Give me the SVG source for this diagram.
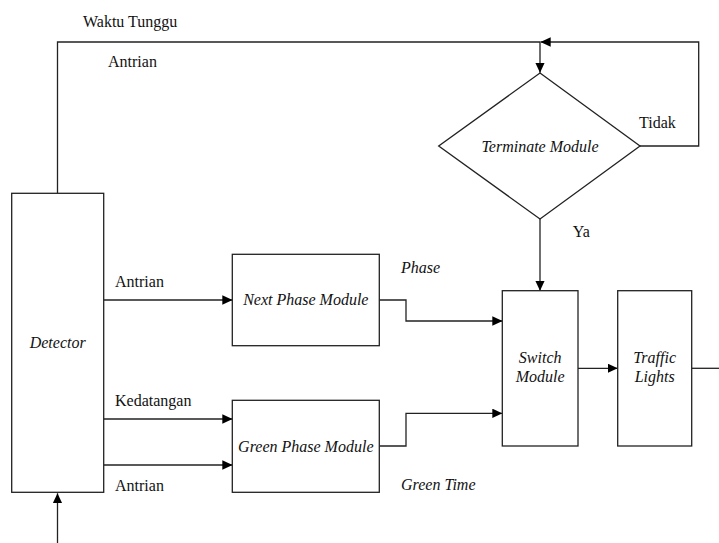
<svg xmlns="http://www.w3.org/2000/svg" width="719" height="543" viewBox="0 0 719 543" font-family="'Liberation Serif', Tinos, 'Times New Roman', 'DejaVu Serif', serif">
<defs>
<marker id="arr" markerUnits="userSpaceOnUse" markerWidth="10" markerHeight="10" refX="10" refY="4.7" orient="auto">
<path d="M0,0 L10,4.7 L0,9.4 z" fill="#000"/>
</marker>
<style>
.box{fill:#fff;stroke:#222;stroke-width:1.3}
.ln{fill:none;stroke:#222;stroke-width:1.3}
.t{font-family:'Liberation Serif', Tinos, 'Times New Roman', 'DejaVu Serif', serif;font-size:16px;fill:#111}
.i{font-style:italic}
.m{text-anchor:middle}
</style>
</defs>
<rect width="719" height="543" fill="#fff"/>
<g id="connectors">
<path class="ln" d="M57.5,193 V42 H540 V72.7" marker-end="url(#arr)"/>
<path class="ln" d="M640,146 H698.7 V42 H540.7" marker-end="url(#arr)"/>
<path class="ln" d="M540,219 V290.7" marker-end="url(#arr)"/>
<path class="ln" d="M104,300 H232.3" marker-end="url(#arr)"/>
<path class="ln" d="M104,419 H232.3" marker-end="url(#arr)"/>
<path class="ln" d="M104,465 H232.3" marker-end="url(#arr)"/>
<path class="ln" d="M379.3,300 H406 V321 H502.3" marker-end="url(#arr)"/>
<path class="ln" d="M379.3,446 H406 V413.3 H502.3" marker-end="url(#arr)"/>
<path class="ln" d="M578,368.3 H617.7" marker-end="url(#arr)"/>
<path class="ln" d="M691.7,368.3 H719"/>
<path class="ln" d="M57.5,543 V493.3" marker-end="url(#arr)"/>
<text class="t" x="83" y="27">Waktu Tunggu</text>
<text class="t" x="108" y="67">Antrian</text>
<text class="t" x="639" y="128">Tidak</text>
<text class="t" x="572.7" y="237">Ya</text>
<text class="t" x="115" y="287">Antrian</text>
<text class="t i" x="401" y="273">Phase</text>
<text class="t" x="115" y="406">Kedatangan</text>
<text class="t" x="115" y="490.7">Antrian</text>
<text class="t i" x="401" y="490">Green Time</text>
</g>
<g id="terminate">
<polygon class="box" points="540,73 640,146 540,219 438.7,146"/>
<text class="t i m" x="540" y="151.5">Terminate Module</text>
</g>
<g id="detector">
<rect class="box" x="11.7" y="193.3" width="92" height="299"/>
<text class="t i m" x="57.7" y="347.7">Detector</text>
</g>
<g id="next-phase">
<rect class="box" x="232.3" y="254.3" width="147" height="91.4"/>
<text class="t i m" x="305.8" y="305">Next Phase Module</text>
</g>
<g id="green-phase">
<rect class="box" x="232.3" y="400.3" width="147" height="92"/>
<text class="t i m" x="305.8" y="451.7">Green Phase Module</text>
</g>
<g id="switch">
<rect class="box" x="502.3" y="290.7" width="75.7" height="155.3"/>
<text class="t i m" x="540.2" y="363">Switch</text>
<text class="t i m" x="540.2" y="382">Module</text>
</g>
<g id="traffic">
<rect class="box" x="617.7" y="290.7" width="74" height="155.3"/>
<text class="t i m" x="654.7" y="363">Traffic</text>
<text class="t i m" x="654.7" y="382">Lights</text>
</g>
</svg>
